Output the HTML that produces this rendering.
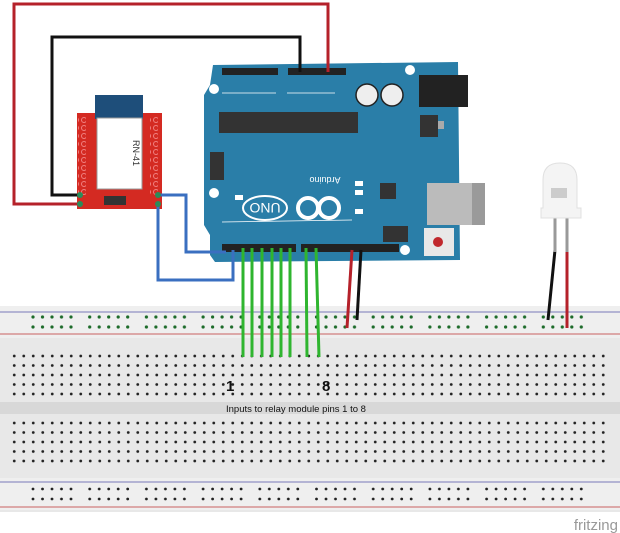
<!DOCTYPE html>
<html><head><meta charset="utf-8"><style>html,body{margin:0;padding:0;background:#fff;width:620px;height:533px;overflow:hidden}</style></head>
<body>
<svg width="620" height="533" viewBox="0 0 620 533" xmlns="http://www.w3.org/2000/svg" font-family="Liberation Sans, sans-serif">
<defs>
<pattern id="md" x="9.5" y="351.25" width="9.5" height="9.5" patternUnits="userSpaceOnUse"><circle cx="4.75" cy="4.75" r="1.4" fill="#222"/></pattern>
<pattern id="md2" x="9.5" y="418.25" width="9.5" height="9.5" patternUnits="userSpaceOnUse"><circle cx="4.75" cy="4.75" r="1.4" fill="#222"/></pattern>
<pattern id="rg" x="30" y="312" width="56.7" height="10" patternUnits="userSpaceOnUse">
<g fill="#1d6b2a"><circle cx="3" cy="5" r="1.6"/><circle cx="12.5" cy="5" r="1.6"/><circle cx="22" cy="5" r="1.6"/><circle cx="31.5" cy="5" r="1.6"/><circle cx="41" cy="5" r="1.6"/></g></pattern>
<pattern id="rb" x="30" y="484" width="56.7" height="10" patternUnits="userSpaceOnUse">
<g fill="#222"><circle cx="3" cy="5" r="1.4"/><circle cx="12.5" cy="5" r="1.4"/><circle cx="22" cy="5" r="1.4"/><circle cx="31.5" cy="5" r="1.4"/><circle cx="41" cy="5" r="1.4"/></g></pattern>
<pattern id="pad" x="0" y="116" width="8" height="8" patternUnits="userSpaceOnUse"><circle cx="4" cy="4" r="2.5" fill="none" stroke="#f08080" stroke-width="1"/></pattern>
</defs>

<!-- breadboard -->
<rect x="0" y="306" width="620" height="206" fill="#e8e8e8"/>
<rect x="0" y="306" width="620" height="32" fill="#efefef"/>
<rect x="0" y="478" width="620" height="32" fill="#efefef"/>
<rect x="0" y="402" width="620" height="12" fill="#d8d8d8"/>
<line x1="0" y1="312" x2="620" y2="312" stroke="#7a7ab8" stroke-width="1"/>
<line x1="0" y1="334" x2="620" y2="334" stroke="#c86060" stroke-width="1"/>
<line x1="0" y1="482" x2="620" y2="482" stroke="#7a7ab8" stroke-width="1"/>
<line x1="0" y1="507" x2="620" y2="507" stroke="#c86060" stroke-width="1"/>
<rect x="30" y="312" width="560" height="20" fill="url(#rg)"/>
<rect x="30" y="484" width="560" height="20" fill="url(#rb)"/>
<rect x="9.5" y="351.25" width="600" height="47.5" fill="url(#md)"/>
<rect x="9.5" y="418.25" width="600" height="47.5" fill="url(#md2)"/>
<text x="226" y="391" font-size="15" font-weight="bold" fill="#111">1</text>
<text x="322" y="391" font-size="15" font-weight="bold" fill="#111">8</text>
<text x="226" y="412" font-size="9.5" fill="#111">Inputs to relay module pins 1 to 8</text>
<text x="618" y="530" font-size="15" fill="#999" text-anchor="end">fritzing</text>

<!-- Arduino board -->
<path d="M213,65 L458,62 L460,260 L215,262 L210,255 L210,235 L204,225 L204,95 L210,85 Z" fill="#2a7ea8"/>
<rect x="222" y="68" width="56" height="7" fill="#222"/>
<rect x="288" y="68" width="58" height="7" fill="#222"/>
<line x1="222" y1="93" x2="276" y2="93" stroke="#fff" stroke-width="0.8"/>
<line x1="287" y1="93" x2="335" y2="93" stroke="#fff" stroke-width="0.8"/>
<circle cx="214" cy="89" r="5" fill="#fff"/>
<circle cx="410" cy="70" r="5" fill="#fff"/>
<circle cx="214" cy="193" r="5" fill="#fff"/>
<circle cx="405" cy="250" r="5" fill="#fff"/>
<rect x="419" y="75" width="49" height="32" fill="#222"/>
<circle cx="367" cy="95" r="11" fill="#eee" stroke="#222" stroke-width="1.5"/>
<circle cx="392" cy="95" r="11" fill="#eee" stroke="#222" stroke-width="1.5"/>
<rect x="219" y="112" width="139" height="21" fill="#333"/>
<rect x="420" y="115" width="18" height="22" fill="#333"/>
<rect x="438" y="121" width="6" height="8" fill="#aaa"/>
<rect x="210" y="152" width="14" height="28" fill="#333"/>
<rect x="380" y="183" width="16" height="16" fill="#333"/>
<rect x="427" y="183" width="58" height="42" fill="#bbb"/>
<rect x="472" y="183" width="13" height="42" fill="#9a9a9a"/>
<ellipse cx="265" cy="208" rx="22" ry="12" fill="none" stroke="#fff" stroke-width="2"/>
<text x="265" y="213" font-size="14" fill="#fff" text-anchor="middle" transform="rotate(180 265 208)">UNO</text>
<circle cx="308" cy="208" r="10" fill="none" stroke="#fff" stroke-width="4"/>
<circle cx="329" cy="208" r="10" fill="none" stroke="#fff" stroke-width="4"/>
<text x="325" y="183" font-size="9" fill="#fff" text-anchor="middle" transform="rotate(180 325 180)">Arduino</text>
<rect x="355" y="181" width="8" height="5" fill="#fff"/><rect x="355" y="190" width="8" height="5" fill="#fff"/><rect x="355" y="209" width="8" height="5" fill="#fff"/>
<rect x="235" y="195" width="8" height="5" fill="#fff"/>
<line x1="222" y1="222" x2="352" y2="220" stroke="#fff" stroke-width="0.8"/>
<rect x="383" y="226" width="25" height="16" fill="#333"/>
<rect x="424" y="228" width="30" height="28" fill="#e8e8e8"/>
<circle cx="438" cy="242" r="5" fill="#c0282d"/>
<rect x="222" y="244" width="74" height="8" fill="#222"/>
<rect x="301" y="244" width="98" height="8" fill="#222"/>

<!-- RN-41 -->
<rect x="77" y="113" width="85" height="96" fill="#d42a22"/>
<rect x="78" y="116" width="8" height="80" fill="url(#pad)"/>
<rect x="150" y="116" width="8" height="80" fill="url(#pad)"/>
<rect x="95" y="95" width="48" height="24" fill="#1e4e7a"/>
<rect x="97" y="118" width="45" height="71" fill="#fff" stroke="#999"/>
<text x="133" y="153" font-size="9" fill="#333" transform="rotate(90 133 153)" text-anchor="middle">RN-41</text>
<rect x="104" y="196" width="22" height="9" fill="#333"/>

<!-- wires -->
<g fill="none" stroke-width="3">
<polyline points="80,204 14,204 14,4 328,4 328,72" stroke="#b5212a"/>
<polyline points="80,195 52,195 52,37 300,37 300,72" stroke="#111"/>
<polyline points="158,195 186,195 186,252 226,252" stroke="#3a6fc0"/>
<polyline points="158,204 158,280 233,280 233,250" stroke="#3a6fc0"/>
<g stroke="#2fb52f"><line x1="243" y1="248" x2="243" y2="357"/><line x1="252" y1="248" x2="252" y2="357"/><line x1="262" y1="248" x2="262" y2="357"/><line x1="272" y1="248" x2="272" y2="357"/><line x1="281" y1="248" x2="281" y2="357"/><line x1="290" y1="248" x2="290" y2="357"/><line x1="306" y1="248" x2="307" y2="357"/><line x1="316" y1="248" x2="319" y2="357"/></g>
<line x1="352" y1="250" x2="347" y2="328" stroke="#b5212a"/>
<line x1="361" y1="250" x2="357" y2="320" stroke="#111"/>
<line x1="555" y1="250" x2="548" y2="320" stroke="#111"/>
<line x1="567" y1="250" x2="567" y2="328" stroke="#b5212a"/>
<line x1="555" y1="215" x2="555" y2="252" stroke="#999"/>
<line x1="567" y1="215" x2="567" y2="252" stroke="#999"/>
</g>
<g fill="#2a8c5a"><circle cx="80" cy="195" r="3"/><circle cx="80" cy="204" r="3"/><circle cx="158" cy="195" r="3"/><circle cx="158" cy="204" r="3"/></g>

<!-- LED -->
<path d="M543,180 Q543,163 560,163 Q577,163 577,180 L577,208 L581,208 L581,218 L541,218 L541,208 L543,208 Z" fill="#f4f4f4" stroke="#e0e0e0"/>
<path d="M551,188 L567,188 L567,198 L551,198 Z" fill="#ccc"/>
</svg>
</body></html>
